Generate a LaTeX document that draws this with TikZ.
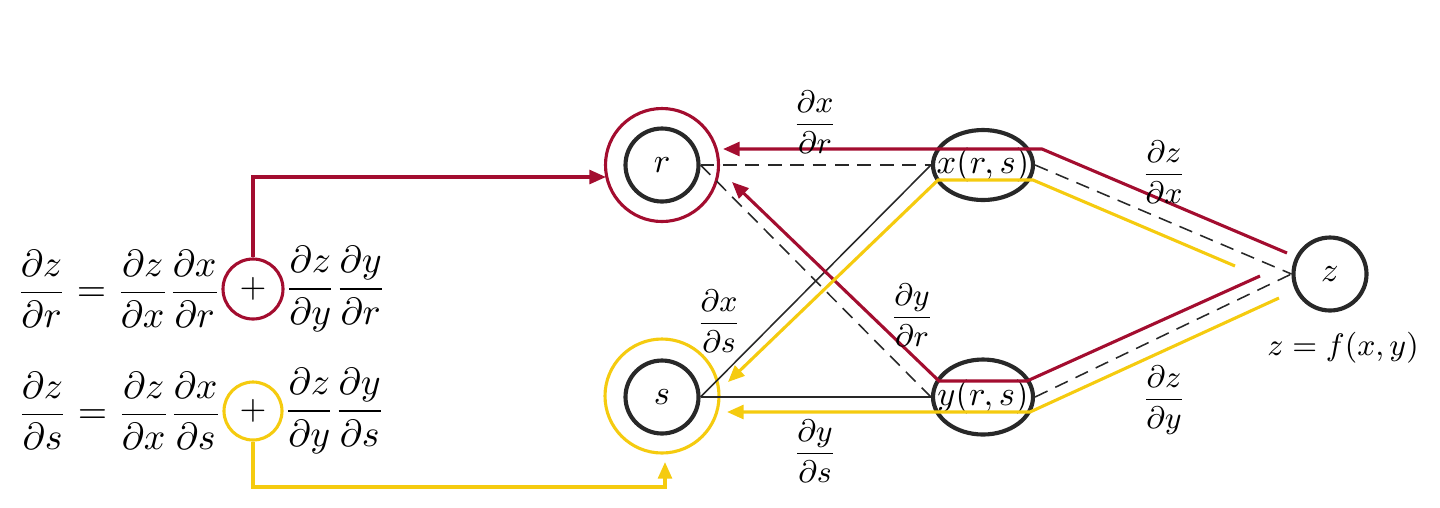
\documentclass[tikz,border=0pt]{standalone}
\usetikzlibrary{arrows.meta,shapes.geometric}
\definecolor{myred}{RGB}{163,13,47}
\definecolor{myyel}{RGB}{245,203,15}
\definecolor{mygray}{RGB}{40,40,40}
\def\u{0.29pt}
\begin{document}
\begin{tikzpicture}[x=0.29pt,y=-0.29pt,
  varnode/.style={circle,draw=mygray,line width=1.2pt,inner sep=0pt,minimum size=73*\u},
  ringred/.style={circle,draw=myred,line width=0.9pt,inner sep=0pt,minimum size=113*\u},
  ringyel/.style={circle,draw=myyel,line width=0.9pt,inner sep=0pt,minimum size=114*\u},
  fnode/.style={ellipse,draw=mygray,line width=1.2pt,inner sep=0pt,minimum width=100*\u},
  plusred/.style={circle,draw=myred,line width=0.9pt,inner sep=0pt,minimum size=60*\u},
  plusyel/.style={circle,draw=myyel,line width=0.9pt,inner sep=0pt,minimum size=58*\u},
  eqpart/.style={inner sep=0pt,font=\fontsize{10.5}{13}\selectfont},
  lab/.style={inner sep=0pt,font=\fontsize{9.5}{12}\selectfont},
  dashline/.style={draw=mygray,line width=0.45pt,dash pattern=on 4pt off 2.5pt},
  thinline/.style={draw=mygray,line width=0.45pt},
  redpath/.style={draw=myred,line width=0.9pt},
  yelpath/.style={draw=myyel,line width=0.9pt},
  tip/.style={-{Triangle[length=4.8pt,width=4pt]}}
]
\useasboundingbox (0,0) rectangle (1440,507);
% variable nodes
\node[varnode] (r) at (662,165) {$r$};
\node[ringred] (ro) at (662,165) {};
\node[varnode] (s) at (662,397) {$s$};
\node[ringyel] (so) at (662,396) {};
\node[fnode,minimum height=70*\u] (x) at (983,165) {\makebox[0pt]{$x(r,s)$}};
\node[fnode,minimum height=75*\u] (y) at (983,397) {\makebox[0pt]{$y(r,s)$}};
\node[varnode] (z) at (1330,274) {$z$};
\node[inner sep=0pt,font=\fontsize{9}{11}\selectfont] (zf) at (1343,348) {$z=f(x,y)$};
% equations
\node[plusred] (pr) at (253,289) {$+$};
\node[eqpart,anchor=east] (er1) at (pr.west) {$\displaystyle\frac{\partial z}{\partial r}=\frac{\partial z}{\partial x}\frac{\partial x}{\partial r}$};
\node[eqpart,anchor=west] (er2) at (pr.east) {$\displaystyle\frac{\partial z}{\partial y}\frac{\partial y}{\partial r}$};
\node[plusyel] (ps) at (253,411) {$+$};
\node[eqpart,anchor=east] (es1) at (ps.west) {$\displaystyle\frac{\partial z}{\partial s}=\frac{\partial z}{\partial x}\frac{\partial x}{\partial s}$};
\node[eqpart,anchor=west] (es2) at (ps.east) {$\displaystyle\frac{\partial z}{\partial y}\frac{\partial y}{\partial s}$};
% graph edges
\draw[dashline] (r.east) -- (x.west);
\draw[dashline] (r.east) -- (y.west);
\draw[thinline] (s.east) -- (x.west);
\draw[thinline] (s.east) -- (y.west);
\draw[dashline] (x.east) -- (z.west);
\draw[dashline] (y.east) -- (z.west);
% coloured chain-rule paths
\coordinate (ra) at (606,177);
\coordinate (yb) at (253,487);
\coordinate (sa) at (665,462);
\draw[redpath,tip] (pr.north) |- (ra);
\draw[yelpath,tip] (ps.south) -- (yb) -| (sa);
\coordinate (a1) at (1287,253);
\coordinate (a2) at (1042,149);
\coordinate (a3) at (723,149);
\draw[redpath,tip] (a1) -- (a2) -- (a3);
\coordinate (b1) at (1260,276);
\coordinate (b2) at (1027,381);
\coordinate (b3) at (939,381);
\coordinate (b4) at (732,182);
\draw[redpath,tip] (b1) -- (b2) -- (b3) -- (b4);
\coordinate (c1) at (1235,266);
\coordinate (c2) at (1033,180);
\coordinate (c3) at (938,180);
\coordinate (c4) at (728,382);
\draw[yelpath,tip] (c1) -- (c2) -- (c3) -- (c4);
\coordinate (d1) at (1279,298);
\coordinate (d2) at (1030,412);
\coordinate (d3) at (727,412);
\draw[yelpath,tip] (d1) -- (d2) -- (d3);
% edge labels
\node[lab] (lxr) at (815,122) {$\displaystyle\frac{\partial x}{\partial r}$};
\node[lab] (lxs) at (719,321) {$\displaystyle\frac{\partial x}{\partial s}$};
\node[lab] (lyr) at (912,315) {$\displaystyle\frac{\partial y}{\partial r}$};
\node[lab] (lys) at (815,451) {$\displaystyle\frac{\partial y}{\partial s}$};
\node[lab] (lzx) at (1164,172) {$\displaystyle\frac{\partial z}{\partial x}$};
\node[lab] (lzy) at (1164,400) {$\displaystyle\frac{\partial z}{\partial y}$};
\end{tikzpicture}
\end{document}
